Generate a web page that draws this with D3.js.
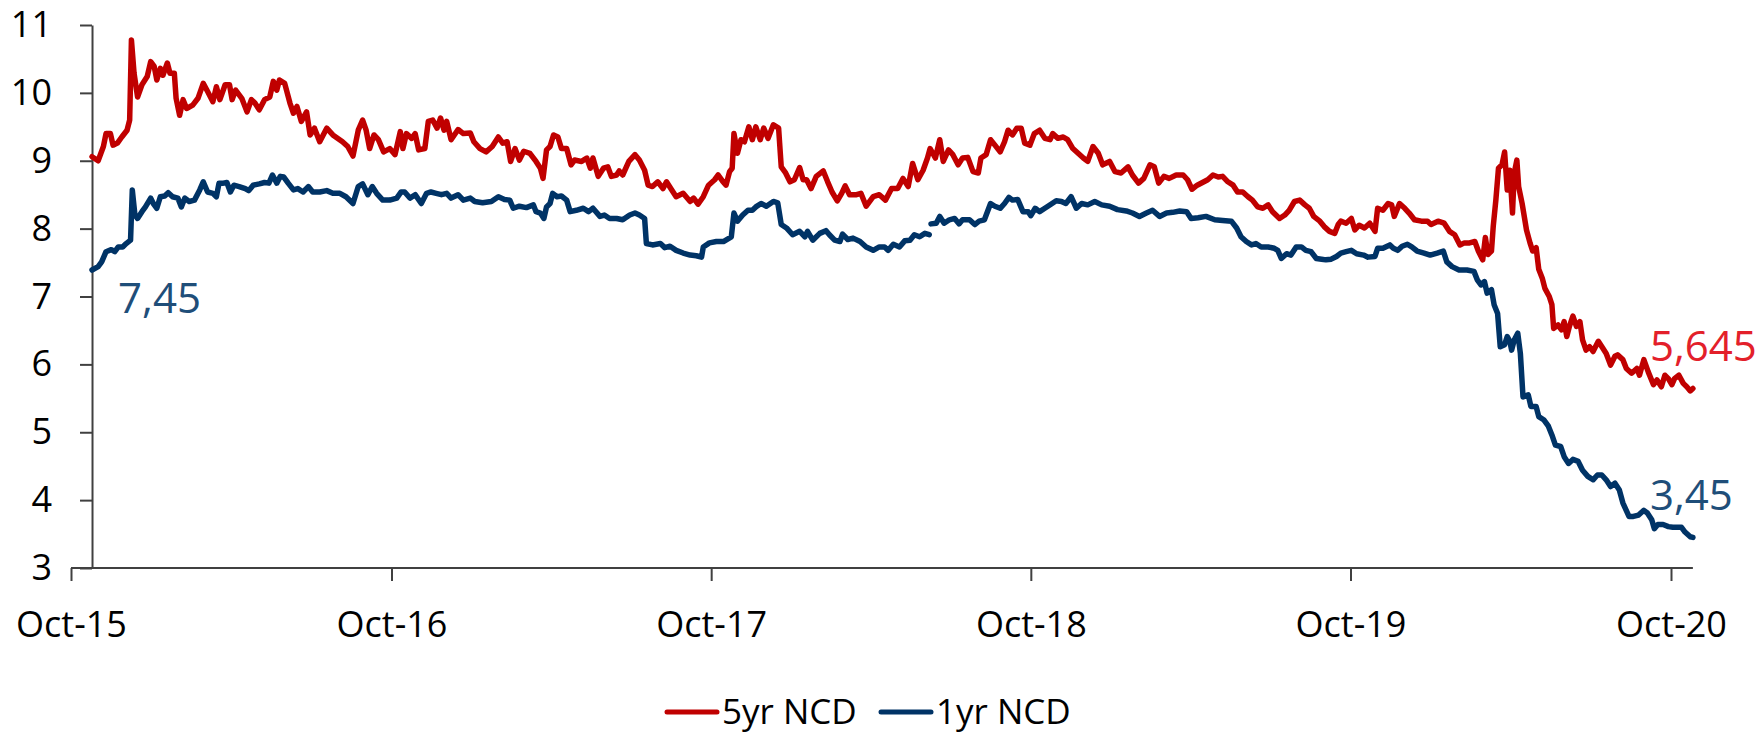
<!DOCTYPE html>
<html>
<head>
<meta charset="utf-8">
<title>5yr and 1yr NCD</title>
<style>
  body { margin: 0; background: #fff; }
  svg { display: block; }
  text { font-family: "Open Sans", "Noto Sans", sans-serif; }
  .axis path, .axis line { stroke: #404040; stroke-width: 2; }
  .axis text { fill: #000; font-size: 36px; }
</style>
<script src="https://d3js.org/d3.v7.min.js"></script>
</head>
<body>
<svg id="chart" width="1760" height="735"></svg>
<script>
// 5yr NCD rate
var ncd5yr = [
  ["2015-10-25", 9.06], ["2015-11-01", 9.00], ["2015-11-07", 9.21], ["2015-11-10", 9.40], ["2015-11-15", 9.40],
  ["2015-11-18", 9.23], ["2015-11-23", 9.26], ["2015-11-28", 9.35], ["2015-12-04", 9.45], ["2015-12-07", 9.60],
  ["2015-12-09", 10.78], ["2015-12-12", 10.29], ["2015-12-16", 9.94], ["2015-12-21", 10.12], ["2015-12-27", 10.24],
  ["2015-12-31", 10.46], ["2016-01-04", 10.39], ["2016-01-07", 10.19], ["2016-01-11", 10.36], ["2016-01-14", 10.26],
  ["2016-01-19", 10.44], ["2016-01-22", 10.29], ["2016-01-27", 10.29], ["2016-01-29", 9.92], ["2016-02-02", 9.67],
  ["2016-02-06", 9.90], ["2016-02-10", 9.77], ["2016-02-17", 9.82], ["2016-02-23", 9.92], ["2016-02-29", 10.14],
  ["2016-03-05", 10.02], ["2016-03-11", 9.87], ["2016-03-15", 10.09], ["2016-03-19", 9.90], ["2016-03-25", 10.12],
  ["2016-03-30", 10.12], ["2016-04-02", 9.90], ["2016-04-06", 10.04], ["2016-04-13", 9.92], ["2016-04-19", 9.72],
  ["2016-04-24", 9.90], ["2016-04-28", 9.85], ["2016-05-03", 9.75], ["2016-05-09", 9.90], ["2016-05-15", 9.94],
  ["2016-05-19", 10.17], ["2016-05-23", 10.04], ["2016-05-26", 10.19], ["2016-06-01", 10.14], ["2016-06-07", 9.85],
  ["2016-06-11", 9.70], ["2016-06-15", 9.80], ["2016-06-20", 9.58], ["2016-06-26", 9.72], ["2016-06-30", 9.38],
  ["2016-07-05", 9.48], ["2016-07-11", 9.28], ["2016-07-19", 9.48], ["2016-07-26", 9.38], ["2016-08-06", 9.28],
  ["2016-08-12", 9.21], ["2016-08-18", 9.07], ["2016-08-24", 9.45], ["2016-08-29", 9.60], ["2016-09-02", 9.45],
  ["2016-09-06", 9.18], ["2016-09-11", 9.38], ["2016-09-16", 9.31], ["2016-09-22", 9.13], ["2016-09-29", 9.18],
  ["2016-10-05", 9.09], ["2016-10-11", 9.43], ["2016-10-14", 9.18], ["2016-10-18", 9.40], ["2016-10-24", 9.33],
  ["2016-10-28", 9.40], ["2016-11-01", 9.16], ["2016-11-08", 9.18], ["2016-11-12", 9.58], ["2016-11-17", 9.60],
  ["2016-11-22", 9.48], ["2016-11-26", 9.63], ["2016-11-30", 9.45], ["2016-12-03", 9.58], ["2016-12-08", 9.31],
  ["2016-12-16", 9.46], ["2016-12-22", 9.40], ["2016-12-30", 9.41], ["2017-01-03", 9.28], ["2017-01-10", 9.18],
  ["2017-01-17", 9.13], ["2017-01-24", 9.21], ["2017-01-31", 9.35], ["2017-02-05", 9.26], ["2017-02-10", 9.28],
  ["2017-02-14", 8.99], ["2017-02-19", 9.18], ["2017-02-24", 9.01], ["2017-03-01", 9.14], ["2017-03-08", 9.11],
  ["2017-03-15", 8.99], ["2017-03-20", 8.89], ["2017-03-23", 8.74], ["2017-03-27", 9.16], ["2017-03-31", 9.21],
  ["2017-04-04", 9.38], ["2017-04-09", 9.35], ["2017-04-13", 9.18], ["2017-04-19", 9.18], ["2017-04-24", 8.94],
  ["2017-04-28", 9.01], ["2017-05-06", 8.99], ["2017-05-12", 9.04], ["2017-05-16", 8.89], ["2017-05-19", 9.04],
  ["2017-05-25", 8.77], ["2017-05-31", 8.89], ["2017-06-05", 8.91], ["2017-06-09", 8.77], ["2017-06-15", 8.79],
  ["2017-06-18", 8.85], ["2017-06-22", 8.79], ["2017-06-29", 8.99], ["2017-07-06", 9.09], ["2017-07-11", 9.01],
  ["2017-07-17", 8.86], ["2017-07-21", 8.64], ["2017-07-26", 8.62], ["2017-08-01", 8.69], ["2017-08-07", 8.59],
  ["2017-08-11", 8.69], ["2017-08-17", 8.57], ["2017-08-22", 8.47], ["2017-08-30", 8.52], ["2017-09-07", 8.40],
  ["2017-09-11", 8.45], ["2017-09-16", 8.36], ["2017-09-22", 8.47], ["2017-09-28", 8.64], ["2017-10-05", 8.72],
  ["2017-10-09", 8.79], ["2017-10-14", 8.70], ["2017-10-18", 8.64], ["2017-10-22", 8.84], ["2017-10-25", 8.89],
  ["2017-10-27", 9.40], ["2017-10-31", 9.11], ["2017-11-04", 9.31], ["2017-11-08", 9.28], ["2017-11-13", 9.50],
  ["2017-11-17", 9.31], ["2017-11-21", 9.50], ["2017-11-26", 9.31], ["2017-11-30", 9.48], ["2017-12-05", 9.33],
  ["2017-12-11", 9.53], ["2017-12-17", 9.48], ["2017-12-20", 8.91], ["2017-12-25", 8.82], ["2017-12-30", 8.69],
  ["2018-01-04", 8.72], ["2018-01-10", 8.90], ["2018-01-14", 8.72], ["2018-01-18", 8.72], ["2018-01-23", 8.59],
  ["2018-01-29", 8.77], ["2018-02-06", 8.85], ["2018-02-11", 8.69], ["2018-02-16", 8.54], ["2018-02-22", 8.41],
  ["2018-02-27", 8.52], ["2018-03-03", 8.63], ["2018-03-08", 8.50], ["2018-03-16", 8.50], ["2018-03-21", 8.52],
  ["2018-03-27", 8.33], ["2018-04-04", 8.47], ["2018-04-11", 8.50], ["2018-04-18", 8.42], ["2018-04-25", 8.59],
  ["2018-05-02", 8.59], ["2018-05-08", 8.74], ["2018-05-14", 8.62], ["2018-05-19", 8.96], ["2018-05-25", 8.72],
  ["2018-05-31", 8.86], ["2018-06-05", 9.04], ["2018-06-08", 9.18], ["2018-06-14", 9.04], ["2018-06-19", 9.31],
  ["2018-06-23", 8.99], ["2018-06-29", 9.16], ["2018-07-04", 9.09], ["2018-07-10", 8.94], ["2018-07-15", 9.04],
  ["2018-07-21", 9.05], ["2018-07-27", 8.84], ["2018-08-02", 8.82], ["2018-08-05", 9.04], ["2018-08-11", 9.09],
  ["2018-08-16", 9.31], ["2018-08-21", 9.23], ["2018-08-27", 9.13], ["2018-09-01", 9.28], ["2018-09-05", 9.45],
  ["2018-09-10", 9.38], ["2018-09-15", 9.48], ["2018-09-20", 9.48], ["2018-09-24", 9.26], ["2018-09-30", 9.23],
  ["2018-10-05", 9.40], ["2018-10-11", 9.45], ["2018-10-17", 9.33], ["2018-10-23", 9.31], ["2018-10-26", 9.40],
  ["2018-11-01", 9.33], ["2018-11-07", 9.35], ["2018-11-12", 9.31], ["2018-11-18", 9.18], ["2018-11-24", 9.11],
  ["2018-11-30", 9.04], ["2018-12-05", 8.99], ["2018-12-11", 9.21], ["2018-12-17", 9.11], ["2018-12-22", 8.94],
  ["2018-12-30", 8.99], ["2019-01-05", 8.84], ["2019-01-12", 8.82], ["2019-01-20", 8.91], ["2019-01-25", 8.79],
  ["2019-02-01", 8.67], ["2019-02-07", 8.74], ["2019-02-14", 8.94], ["2019-02-19", 8.91], ["2019-02-24", 8.67],
  ["2019-03-02", 8.77], ["2019-03-08", 8.74], ["2019-03-16", 8.79], ["2019-03-24", 8.79], ["2019-03-29", 8.72],
  ["2019-04-03", 8.58], ["2019-04-09", 8.64], ["2019-04-15", 8.68], ["2019-04-21", 8.72], ["2019-04-27", 8.79],
  ["2019-05-03", 8.76], ["2019-05-08", 8.77], ["2019-05-14", 8.69], ["2019-05-20", 8.64], ["2019-05-25", 8.54],
  ["2019-05-31", 8.54], ["2019-06-06", 8.47], ["2019-06-11", 8.42], ["2019-06-17", 8.32], ["2019-06-23", 8.30],
  ["2019-06-29", 8.35], ["2019-07-04", 8.25], ["2019-07-12", 8.15], ["2019-07-18", 8.20], ["2019-07-23", 8.27],
  ["2019-07-29", 8.40], ["2019-08-04", 8.42], ["2019-08-10", 8.35], ["2019-08-15", 8.30], ["2019-08-20", 8.18],
  ["2019-08-27", 8.11], ["2019-09-01", 8.03], ["2019-09-07", 7.96], ["2019-09-13", 7.93], ["2019-09-17", 8.06],
  ["2019-09-20", 8.11], ["2019-09-26", 8.08], ["2019-10-02", 8.15], ["2019-10-06", 7.98], ["2019-10-11", 8.05],
  ["2019-10-17", 8.01], ["2019-10-23", 8.08], ["2019-10-29", 7.96], ["2019-11-01", 8.30], ["2019-11-07", 8.27],
  ["2019-11-13", 8.37], ["2019-11-17", 8.35], ["2019-11-20", 8.18], ["2019-11-26", 8.37], ["2019-12-02", 8.30],
  ["2019-12-07", 8.23], ["2019-12-13", 8.13], ["2019-12-21", 8.11], ["2019-12-28", 8.11], ["2020-01-01", 8.06],
  ["2020-01-09", 8.11], ["2020-01-16", 8.08], ["2020-01-22", 7.96], ["2020-01-28", 7.91], ["2020-02-03", 7.76],
  ["2020-02-08", 7.79], ["2020-02-14", 7.79], ["2020-02-20", 7.81], ["2020-02-24", 7.67], ["2020-02-29", 7.54],
  ["2020-03-03", 7.87], ["2020-03-06", 7.62], ["2020-03-10", 7.67], ["2020-03-12", 8.03], ["2020-03-15", 8.42],
  ["2020-03-18", 8.89], ["2020-03-22", 8.94], ["2020-03-25", 9.13], ["2020-03-28", 8.57], ["2020-03-31", 8.86],
  ["2020-04-03", 8.23], ["2020-04-05", 8.82], ["2020-04-08", 9.01], ["2020-04-10", 8.62], ["2020-04-14", 8.37],
  ["2020-04-19", 7.98], ["2020-04-23", 7.79], ["2020-04-26", 7.67], ["2020-04-30", 7.72], ["2020-05-03", 7.40],
  ["2020-05-07", 7.27], ["2020-05-10", 7.12], ["2020-05-15", 7.00], ["2020-05-18", 6.88], ["2020-05-20", 6.53],
  ["2020-05-25", 6.58], ["2020-05-29", 6.51], ["2020-06-01", 6.63], ["2020-06-04", 6.41], ["2020-06-07", 6.56],
  ["2020-06-11", 6.71], ["2020-06-15", 6.56], ["2020-06-19", 6.63], ["2020-06-22", 6.36], ["2020-06-26", 6.21],
  ["2020-06-30", 6.26], ["2020-07-04", 6.19], ["2020-07-10", 6.34], ["2020-07-15", 6.24], ["2020-07-19", 6.16],
  ["2020-07-24", 5.99], ["2020-07-29", 6.12], ["2020-08-01", 6.14], ["2020-08-07", 6.07], ["2020-08-11", 5.94],
  ["2020-08-17", 5.87], ["2020-08-23", 5.94], ["2020-08-26", 5.84], ["2020-08-31", 6.07], ["2020-09-05", 5.89],
  ["2020-09-11", 5.70], ["2020-09-15", 5.77], ["2020-09-20", 5.67], ["2020-09-24", 5.84], ["2020-09-28", 5.79],
  ["2020-10-02", 5.70], ["2020-10-05", 5.79], ["2020-10-10", 5.84], ["2020-10-15", 5.72], ["2020-10-19", 5.67],
  ["2020-10-23", 5.61], ["2020-10-26", 5.645]
];

// 1yr NCD rate (null = missing quote, the line breaks there)
var ncd1yr = [
  ["2015-10-25", 7.39], ["2015-11-01", 7.44], ["2015-11-05", 7.51], ["2015-11-10", 7.66], ["2015-11-16", 7.69],
  ["2015-11-20", 7.66], ["2015-11-24", 7.73], ["2015-11-29", 7.73], ["2015-12-03", 7.78], ["2015-12-08", 7.83],
  ["2015-12-10", 8.57], ["2015-12-13", 8.20], ["2015-12-16", 8.15], ["2015-12-21", 8.25], ["2015-12-25", 8.32],
  ["2015-12-31", 8.45], ["2016-01-03", 8.37], ["2016-01-07", 8.30], ["2016-01-11", 8.47], ["2016-01-16", 8.48],
  ["2016-01-20", 8.53], ["2016-01-25", 8.47], ["2016-01-31", 8.45], ["2016-02-04", 8.32], ["2016-02-08", 8.45],
  ["2016-02-13", 8.40], ["2016-02-19", 8.42], ["2016-02-25", 8.57], ["2016-02-29", 8.69], ["2016-03-05", 8.54],
  ["2016-03-11", 8.52], ["2016-03-15", 8.47], ["2016-03-18", 8.67], ["2016-03-23", 8.67], ["2016-03-27", 8.68],
  ["2016-03-31", 8.54], ["2016-04-04", 8.64], ["2016-04-10", 8.62], ["2016-04-17", 8.59], ["2016-04-21", 8.56],
  ["2016-04-26", 8.64], ["2016-05-03", 8.66], ["2016-05-09", 8.68], ["2016-05-14", 8.67], ["2016-05-18", 8.79],
  ["2016-05-23", 8.67], ["2016-05-27", 8.77], ["2016-05-31", 8.76], ["2016-06-05", 8.67], ["2016-06-11", 8.57],
  ["2016-06-16", 8.59], ["2016-06-22", 8.54], ["2016-06-28", 8.62], ["2016-07-03", 8.54], ["2016-07-11", 8.54],
  ["2016-07-19", 8.56], ["2016-07-26", 8.52], ["2016-08-03", 8.52], ["2016-08-10", 8.47], ["2016-08-18", 8.37],
  ["2016-08-24", 8.62], ["2016-08-29", 8.66], ["2016-09-04", 8.50], ["2016-09-09", 8.62], ["2016-09-14", 8.52],
  ["2016-09-21", 8.42], ["2016-09-29", 8.42], ["2016-10-07", 8.45], ["2016-10-12", 8.54], ["2016-10-16", 8.54],
  ["2016-10-22", 8.45], ["2016-10-28", 8.50], ["2016-11-04", 8.37], ["2016-11-10", 8.52], ["2016-11-15", 8.54],
  ["2016-11-21", 8.52], ["2016-11-27", 8.50], ["2016-12-03", 8.52], ["2016-12-08", 8.45], ["2016-12-16", 8.50],
  ["2016-12-22", 8.42], ["2016-12-30", 8.45], ["2017-01-04", 8.40], ["2017-01-13", 8.38], ["2017-01-23", 8.40],
  ["2017-01-31", 8.47], ["2017-02-07", 8.43], ["2017-02-13", 8.42], ["2017-02-17", 8.30], ["2017-02-24", 8.33],
  ["2017-03-04", 8.31], ["2017-03-12", 8.35], ["2017-03-15", 8.25], ["2017-03-20", 8.23], ["2017-03-24", 8.15],
  ["2017-03-27", 8.32], ["2017-03-31", 8.37], ["2017-04-03", 8.52], ["2017-04-08", 8.47], ["2017-04-13", 8.48],
  ["2017-04-19", 8.42], ["2017-04-23", 8.25], ["2017-04-30", 8.27], ["2017-05-08", 8.30], ["2017-05-14", 8.25],
  ["2017-05-19", 8.30], ["2017-05-27", 8.18], ["2017-06-01", 8.20], ["2017-06-07", 8.15], ["2017-06-15", 8.15],
  ["2017-06-22", 8.13], ["2017-06-30", 8.20], ["2017-07-06", 8.23], ["2017-07-11", 8.20], ["2017-07-17", 8.15],
  ["2017-07-19", 7.78], ["2017-07-26", 7.76], ["2017-08-04", 7.78], ["2017-08-09", 7.72], ["2017-08-15", 7.74],
  ["2017-08-22", 7.68], ["2017-08-30", 7.64], ["2017-09-07", 7.61], ["2017-09-14", 7.60], ["2017-09-20", 7.58],
  ["2017-09-22", 7.73], ["2017-09-29", 7.79], ["2017-10-07", 7.81], ["2017-10-15", 7.81], ["2017-10-24", 7.88],
  ["2017-10-27", 8.23], ["2017-10-31", 8.11], ["2017-11-06", 8.20], ["2017-11-12", 8.27], ["2017-11-17", 8.27],
  ["2017-11-21", 8.32], ["2017-11-27", 8.37], ["2017-12-03", 8.33], ["2017-12-11", 8.40], ["2017-12-16", 8.38],
  ["2017-12-20", 8.06], ["2017-12-26", 8.01], ["2018-01-02", 7.91], ["2018-01-10", 7.96], ["2018-01-16", 7.88],
  ["2018-01-19", 7.96], ["2018-01-25", 7.83], ["2018-02-02", 7.93], ["2018-02-09", 7.97], ["2018-02-13", 7.91],
  ["2018-02-19", 7.83], ["2018-02-25", 7.81], ["2018-02-28", 7.92], ["2018-03-06", 7.84], ["2018-03-12", 7.86],
  ["2018-03-20", 7.81], ["2018-03-27", 7.73], ["2018-04-04", 7.68], ["2018-04-11", 7.73], ["2018-04-17", 7.73],
  ["2018-04-21", 7.68], ["2018-04-27", 7.77], ["2018-05-04", 7.73], ["2018-05-10", 7.82], ["2018-05-16", 7.83],
  ["2018-05-21", 7.91], ["2018-05-27", 7.88], ["2018-06-02", 7.93], ["2018-06-07", 7.91], ["2018-06-08", null],
  ["2018-06-09", 8.07], ["2018-06-15", 8.08], ["2018-06-19", 8.18], ["2018-06-24", 8.08], ["2018-06-30", 8.13],
  ["2018-07-06", 8.15], ["2018-07-11", 8.07], ["2018-07-15", 8.13], ["2018-07-23", 8.13], ["2018-07-29", 8.06],
  ["2018-08-03", 8.11], ["2018-08-09", 8.13], ["2018-08-16", 8.37], ["2018-08-21", 8.33], ["2018-08-27", 8.30],
  ["2018-09-01", 8.37], ["2018-09-06", 8.46], ["2018-09-10", 8.42], ["2018-09-16", 8.43], ["2018-09-22", 8.25],
  ["2018-09-28", 8.25], ["2018-10-01", 8.19], ["2018-10-06", 8.30], ["2018-10-11", 8.25], ["2018-10-17", 8.30],
  ["2018-10-24", 8.36], ["2018-10-30", 8.41], ["2018-11-05", 8.40], ["2018-11-10", 8.37], ["2018-11-16", 8.47],
  ["2018-11-22", 8.30], ["2018-11-28", 8.37], ["2018-12-05", 8.35], ["2018-12-13", 8.40], ["2018-12-21", 8.35],
  ["2018-12-30", 8.33], ["2019-01-08", 8.28], ["2019-01-18", 8.26], ["2019-01-25", 8.23], ["2019-02-02", 8.18],
  ["2019-02-10", 8.23], ["2019-02-17", 8.27], ["2019-02-25", 8.18], ["2019-03-05", 8.23], ["2019-03-12", 8.24],
  ["2019-03-20", 8.26], ["2019-03-28", 8.25], ["2019-04-02", 8.15], ["2019-04-10", 8.16], ["2019-04-19", 8.18],
  ["2019-04-29", 8.13], ["2019-05-08", 8.12], ["2019-05-18", 8.11], ["2019-05-24", 8.01], ["2019-05-29", 7.88],
  ["2019-06-04", 7.81], ["2019-06-10", 7.76], ["2019-06-15", 7.78], ["2019-06-21", 7.73], ["2019-06-29", 7.73],
  ["2019-07-06", 7.71], ["2019-07-10", 7.68], ["2019-07-14", 7.56], ["2019-07-20", 7.63], ["2019-07-25", 7.61],
  ["2019-07-31", 7.73], ["2019-08-06", 7.73], ["2019-08-11", 7.68], ["2019-08-17", 7.66], ["2019-08-23", 7.56],
  ["2019-08-29", 7.55], ["2019-09-03", 7.54], ["2019-09-09", 7.55], ["2019-09-15", 7.59], ["2019-09-20", 7.64],
  ["2019-09-26", 7.66], ["2019-10-02", 7.68], ["2019-10-08", 7.63], ["2019-10-16", 7.61], ["2019-10-21", 7.58],
  ["2019-10-29", 7.59], ["2019-11-01", 7.71], ["2019-11-07", 7.71], ["2019-11-15", 7.76], ["2019-11-19", 7.71],
  ["2019-11-24", 7.68], ["2019-11-29", 7.74], ["2019-12-05", 7.77], ["2019-12-10", 7.73], ["2019-12-16", 7.67],
  ["2019-12-24", 7.64], ["2019-12-31", 7.61], ["2020-01-08", 7.64], ["2020-01-15", 7.67], ["2020-01-19", 7.51],
  ["2020-01-25", 7.44], ["2020-02-02", 7.39], ["2020-02-11", 7.39], ["2020-02-19", 7.37], ["2020-02-23", 7.24],
  ["2020-02-27", 7.17], ["2020-03-02", 7.22], ["2020-03-05", 7.05], ["2020-03-10", 7.10], ["2020-03-13", 6.88],
  ["2020-03-17", 6.75], ["2020-03-20", 6.26], ["2020-03-25", 6.29], ["2020-03-28", 6.41], ["2020-03-31", 6.34],
  ["2020-04-02", 6.21], ["2020-04-05", 6.36], ["2020-04-09", 6.46], ["2020-04-12", 6.16], ["2020-04-15", 5.52],
  ["2020-04-21", 5.55], ["2020-04-24", 5.38], ["2020-04-30", 5.38], ["2020-05-03", 5.23], ["2020-05-09", 5.18],
  ["2020-05-14", 5.09], ["2020-05-18", 4.96], ["2020-05-22", 4.81], ["2020-05-28", 4.79], ["2020-06-01", 4.64],
  ["2020-06-06", 4.54], ["2020-06-11", 4.60], ["2020-06-17", 4.57], ["2020-06-22", 4.44], ["2020-06-28", 4.35],
  ["2020-07-04", 4.30], ["2020-07-09", 4.37], ["2020-07-14", 4.37], ["2020-07-19", 4.30], ["2020-07-24", 4.20],
  ["2020-07-29", 4.25], ["2020-08-03", 4.15], ["2020-08-07", 3.96], ["2020-08-14", 3.76], ["2020-08-19", 3.76],
  ["2020-08-25", 3.78], ["2020-08-31", 3.85], ["2020-09-04", 3.81], ["2020-09-09", 3.71], ["2020-09-12", 3.58],
  ["2020-09-16", 3.64], ["2020-09-22", 3.64], ["2020-09-28", 3.61], ["2020-10-03", 3.60], ["2020-10-09", 3.60],
  ["2020-10-13", 3.60], ["2020-10-17", 3.53], ["2020-10-23", 3.46], ["2020-10-26", 3.45]
];

var seriesNames = ["5yr NCD", "1yr NCD"];
var seriesColors = ["#c00000", "#003366"];
var xTickDates = ["2015-10-01", "2016-10-01", "2017-10-01", "2018-10-01", "2019-10-01", "2020-10-01"];
var xTickLabels = ["Oct-15", "Oct-16", "Oct-17", "Oct-18", "Oct-19", "Oct-20"];
var yTicks = [3, 4, 5, 6, 7, 8, 9, 10, 11];
// value callouts: first 1yr, last 5yr, last 1yr
var callouts = [
  { text: "7,45", series: 1, at: "first", color: "#1f4e79" },
  { text: "5,645", series: 0, at: "last", color: "#e3202a" },
  { text: "3,45", series: 1, at: "last", color: "#1f4e79" }
];

var parseDate = d3.utcParse("%Y-%m-%d");
var series = [ncd5yr, ncd1yr].map(function(s) {
  return s.map(function(d) { return { date: parseDate(d[0]), value: d[1] }; });
});

var svg = d3.select("#chart");

var x = d3.scaleUtc()
  .domain([parseDate(xTickDates[0]), parseDate(xTickDates[xTickDates.length - 1])])
  .range([71, 1671]);

var y = d3.scaleLinear()
  .domain([3, 11])
  .range([568, 25]);

var firstDate = series[0][0].date;
var lastDate = series[0][series[0].length - 1].date;

// x axis: line runs from the first tick to the last data point
var xAxis = svg.append("g")
  .attr("class", "axis")
  .attr("transform", "translate(0," + y(3) + ")")
  .call(d3.axisBottom(x)
    .tickValues(xTickDates.map(parseDate))
    .tickFormat(function(d, i) { return xTickLabels[i]; })
    .tickSize(13)
    .tickSizeOuter(0)
    .tickPadding(30));
xAxis.select(".domain").remove();
xAxis.append("line")
  .attr("x1", x(parseDate(xTickDates[0])))
  .attr("x2", x(lastDate))
  .attr("stroke", "#404040")
  .attr("stroke-width", 2);

// y axis sits at the first date of the data
svg.append("g")
  .attr("class", "axis")
  .attr("transform", "translate(" + x(firstDate) + ",0)")
  .call(d3.axisLeft(y)
    .tickValues(yTicks)
    .tickFormat(d3.format("d"))
    .tickSize(12)
    .tickSizeOuter(0)
    .tickPadding(28));

svg.selectAll(".axis .tick text").attr("font-family", "'Open Sans', 'Noto Sans', sans-serif");

var line = d3.line()
  .defined(function(d) { return d.value != null; })
  .x(function(d) { return x(d.date); })
  .y(function(d) { return y(d.value); });

svg.selectAll(".series")
  .data(series)
  .enter()
  .append("path")
  .attr("class", "series")
  .attr("fill", "none")
  .attr("stroke", function(d, i) { return seriesColors[i]; })
  .attr("stroke-width", 5.5)
  .attr("stroke-linejoin", "round")
  .attr("stroke-linecap", "round")
  .attr("d", line);

// callouts
svg.selectAll(".callout")
  .data(callouts)
  .enter()
  .append("text")
  .attr("class", "callout")
  .attr("font-size", 42)
  .attr("fill", function(d) { return d.color; })
  .attr("x", function(d) {
    var s = series[d.series];
    var p = d.at == "first" ? s[0] : s[s.length - 1];
    return d.at == "first" ? x(p.date) + 26 : x(p.date) - 43;
  })
  .attr("y", function(d) {
    var s = series[d.series];
    var p = d.at == "first" ? s[0] : s[s.length - 1];
    return d.at == "first" ? y(p.value) + 43 : y(p.value) - 27;
  })
  .text(function(d) { return d.text; });

// legend
var legend = svg.append("g").attr("class", "legend");
var legendX = [667, 881];
seriesNames.forEach(function(name, i) {
  legend.append("line")
    .attr("x1", legendX[i]).attr("x2", legendX[i] + 50)
    .attr("y1", 712).attr("y2", 712)
    .attr("stroke", seriesColors[i])
    .attr("stroke-width", 5)
    .attr("stroke-linecap", "round");
  legend.append("text")
    .attr("x", legendX[i] + 55)
    .attr("y", 712)
    .attr("dy", "0.35em")
    .attr("font-size", 35)
    .attr("fill", "#000")
    .text(name);
});
</script>
</body>
</html>
